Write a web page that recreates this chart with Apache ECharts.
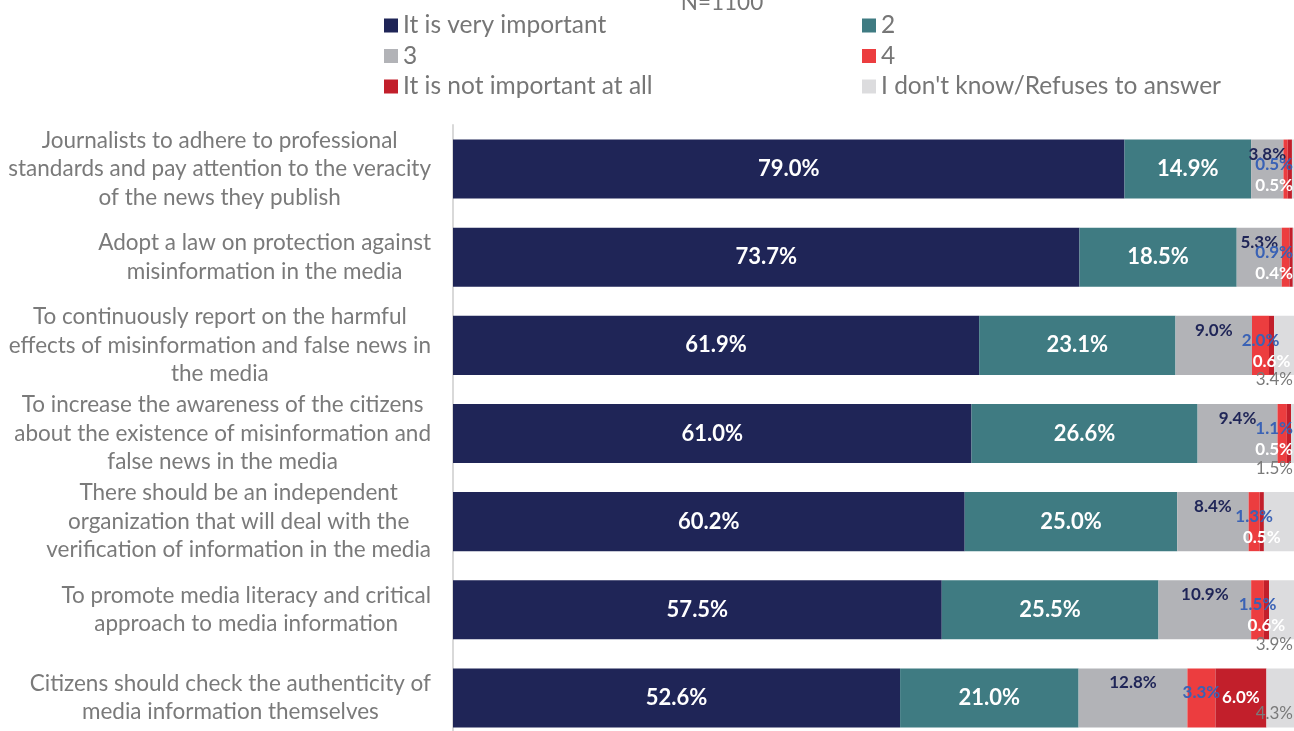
<!DOCTYPE html>
<html>
<head>
<meta charset="utf-8">
<script src="https://cdn.jsdelivr.net/npm/echarts@6/dist/echarts.min.js"></script>
<style>
  html, body { margin: 0; padding: 0; background: #ffffff; overflow: hidden; }
  /* the plot runs slightly past the visible window on the right and bottom */
  #chart { width: 1303px; height: 742px; }
</style>
</head>
<body>
<div id="chart"></div>
<script>
// Survey items (one row each, top to bottom)
const categories = [
  'Journalists to adhere to professional\nstandards and pay attention to the veracity\nof the news they publish',
  'Adopt a law on protection against\nmisinformation in the media',
  'To continuously report on the harmful\neffects of misinformation and false news in\nthe media',
  'To increase the awareness of the citizens\nabout the existence of misinformation and\nfalse news in the media',
  'There should be an independent\norganization that will deal with the\nverification of information in the media',
  'To promote media literacy and critical\napproach to media information',
  'Citizens should check the authenticity of\nmedia information themselves'
];

const seriesNames = [
  'It is very important', '2', '3', '4',
  'It is not important at all', "I don't know/Refuses to answer"
];

// Shares of respondents, %
const veryImportant = [79.0, 73.7, 61.9, 61.0, 60.2, 57.5, 52.6];
const two           = [14.9, 18.5, 23.1, 26.6, 25.0, 25.5, 21.0];
const three         = [3.8, 5.3, 9.0, 9.4, 8.4, 10.9, 12.8];
const four          = [0.5, 0.9, 2.0, 1.1, 1.3, 1.5, 3.3];
const notImportant  = [0.5, 0.4, 0.6, 0.5, 0.5, 0.6, 6.0];
const dontKnow      = [1.3, 1.2, 3.4, 1.5, 4.6, 3.9, 4.3];
// rows where the "don't know" share carries a label
const dontKnowLabelled = [false, false, true, true, false, true, true];

const colors = ['#1f2557', '#3f7b82', '#b2b3b7', '#ec3d3f', '#c21f2b', '#dcdcde'];
const FONT = 'Lato, "Noto Sans", sans-serif';
const VIEW_W = 1294;   // visible window
const VIEW_H = 731;

const pct = v => v.toFixed(1) + '%';

// keep a label inside the visible window
function clampDx(r) {
  return Math.min(0, VIEW_W - 1 - (r.x + r.width));
}

const chart = echarts.init(document.getElementById('chart'), null, { renderer: 'canvas' });

function segment(idx, data, label, labelLayout) {
  return {
    name: seriesNames[idx],
    type: 'bar',
    stack: 'total',
    data: data,
    barCategoryGap: '33%',
    itemStyle: { color: colors[idx] },
    label: label,
    labelLayout: labelLayout,
    emphasis: { disabled: true },
    silent: true
  };
}

const bigLabel = {
  show: true, position: 'inside', color: '#ffffff',
  fontFamily: FONT, fontSize: 22, fontWeight: 'bold',
  formatter: p => pct(p.value)
};

const legendText = { fontFamily: FONT, fontSize: 24.5, lineHeight: 24, color: '#767676' };

const option = {
  animation: false,
  backgroundColor: '#ffffff',
  title: {
    text: 'N=1100',
    left: 717, top: -14, textAlign: 'center',
    textStyle: { fontFamily: FONT, fontSize: 22.5, fontWeight: 'normal', color: '#767676' }
  },
  legend: [
    {
      data: [seriesNames[0], seriesNames[2], seriesNames[4]],
      left: 384, top: 13, orient: 'vertical', padding: 0,
      itemWidth: 14, itemHeight: 14, itemGap: 5.5, icon: 'rect',
      textStyle: legendText,
      selectedMode: false
    },
    {
      data: [seriesNames[1], seriesNames[3], seriesNames[5]],
      left: 862, top: 13, orient: 'vertical', padding: 0,
      itemWidth: 14, itemHeight: 14, itemGap: 5.5, icon: 'rect',
      textStyle: legendText,
      selectedMode: false
    }
  ],
  grid: { left: 453, right: 0, top: 125, bottom: 0, containLabel: false },
  xAxis: {
    type: 'value', min: 0, max: 100, show: false
  },
  yAxis: {
    type: 'category',
    data: categories,
    inverse: true,
    axisLine: { show: true, lineStyle: { color: '#d9d9d9', width: 2 } },
    axisTick: { show: false },
    axisLabel: {
      margin: 22,
      color: '#7a7a7a',
      fontFamily: FONT,
      fontSize: 22.5,
      formatter: v => v.split('\n').map(s => '{c|' + s + '}').join('\n'),
      rich: {
        c: { align: 'center', fontFamily: FONT, fontSize: 22.5, lineHeight: 28.5, color: '#7a7a7a' }
      }
    }
  },
  series: [
    segment(0, veryImportant, bigLabel),
    segment(1, two, bigLabel),
    segment(2, three, {
      show: true, position: 'inside', color: '#1f2557',
      fontFamily: FONT, fontSize: 17, fontWeight: 'bold',
      formatter: p => pct(p.value)
    }, p => ({ dx: clampDx(p.labelRect), dy: -15 })),
    segment(3, four, {
      show: true, position: 'inside', color: '#3a62b5',
      fontFamily: FONT, fontSize: 17, fontWeight: 'bold',
      formatter: p => pct(p.value)
    }, p => ({ dx: clampDx(p.labelRect), dy: -5 })),
    segment(4, notImportant, {
      show: true, position: 'inside', color: '#ffffff',
      fontFamily: FONT, fontSize: 17, fontWeight: 'bold',
      formatter: p => pct(p.value)
    }, p => {
      // narrow segments push their label below the stack's centre line
      const fits = p.rect.width >= p.labelRect.width;
      return { dx: clampDx(p.labelRect), dy: fits ? 0 : 16 };
    }),
    segment(5, dontKnow, {
      show: true, position: 'inside', color: '#7a7a7a',
      fontFamily: FONT, fontSize: 17,
      formatter: p => dontKnowLabelled[p.dataIndex] ? pct(p.value) : ''
    }, p => {
      const r = p.rect;
      let y = r.y + r.height + 5;
      const half = p.labelRect.height / 2;
      if (y + half > VIEW_H - 9) y = VIEW_H - 9 - half;
      return { x: VIEW_W - 1, y: y, align: 'right', verticalAlign: 'middle' };
    })
  ]
};

chart.setOption(option);
</script>
</body>
</html>
